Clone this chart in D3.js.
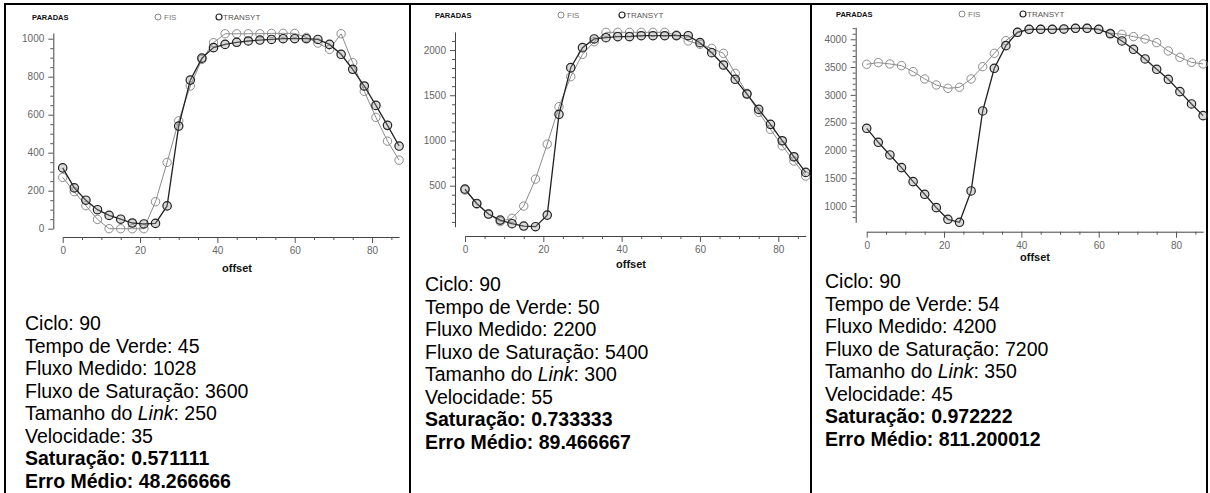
<!DOCTYPE html>
<html>
<head>
<meta charset="utf-8">
<script src="https://cdn.jsdelivr.net/npm/d3@7"></script>
<style>
  html, body { margin: 0; padding: 0; background: #fff; }
  svg { display: block; }
  text { font-family: Arial, "Liberation Sans", sans-serif; }
</style>
</head>
<body>
<svg id="chart" width="1210" height="493"></svg>
<script>
// Offsets (s) evaluated for each link
const offsets = [0,3,6,9,12,15,18,21,24,27,30,33,36,39,42,45,48,51,54,57,60,63,66,69,72,75,78,81,84,87];

// Paradas (stops) per offset — link 1
const fis1 = [270,195,121,49,0,0,0,0,142,349,568,751,891,979,1026,1026,1026,1026,1028,1028,1028,1007,977,944,1026,874,723,586,461,361];
const transyt1 = [320,215,150,100,70,50,30,25,28,120,540,782,898,953,970,981,988,993,996,1000,1000,1000,996,970,918,839,751,649,544,435];

// link 2
const fis2 = [452,297,187,103,140,275,573,960,1373,1705,1952,2092,2195,2195,2195,2195,2195,2195,2166,2100,2063,2018,1963,1742,1521,1311,1123,942,773,607];
const transyt2 = [463,304,187,120,80,54,47,175,1289,1805,2026,2122,2136,2147,2147,2158,2158,2158,2158,2158,2081,1970,1834,1676,1513,1344,1178,997,820,647];

// link 3
const fis3 = [3550,3580,3556,3526,3418,3286,3178,3118,3136,3286,3508,3748,3976,4126,4180,4180,4180,4180,4198,4198,4180,4110,4090,4048,4006,3940,3790,3676,3586,3556];
const transyt3 = [2398,2146,1918,1690,1438,1210,970,760,706,1270,2710,3478,3886,4126,4180,4180,4180,4186,4198,4198,4180,4100,3970,3820,3646,3460,3280,3058,2836,2626];

// Axis ticks
const xTicks = [0,20,40,60,80];
const xMinorTicks = [5,10,15,25,30,35,45,50,55,65,70,75,85];
const yTicks1 = [0,200,400,600,800,1000];
const yTicks2 = [500,1000,1500,2000];
const yTicks3 = [1000,1500,2000,2500,3000,3500,4000];

// Link parameters shown under each chart
const info1 = ["Ciclo: 90","Tempo de Verde: 45","Fluxo Medido: 1028","Fluxo de Saturação: 3600","Tamanho do |Link|: 250","Velocidade: 35","Saturação: 0.571111","Erro Médio: 48.266666"];
const info2 = ["Ciclo: 90","Tempo de Verde: 50","Fluxo Medido: 2200","Fluxo de Saturação: 5400","Tamanho do |Link|: 300","Velocidade: 55","Saturação: 0.733333","Erro Médio: 89.466667"];
const info3 = ["Ciclo: 90","Tempo de Verde: 54","Fluxo Medido: 4200","Fluxo de Saturação: 7200","Tamanho do |Link|: 350","Velocidade: 45","Saturação: 0.972222","Erro Médio: 811.200012"];

const svg = d3.select("#chart");

// Table grid around the three cells
const grid = svg.append("g").attr("stroke", "#000").attr("stroke-width", 2);
grid.append("line").attr("x1", 4).attr("x2", 1208).attr("y1", 4).attr("y2", 4);
[5, 410, 811, 1207].forEach(x =>
  grid.append("line").attr("x1", x).attr("x2", x).attr("y1", 3).attr("y2", 493));

const panels = [
  { fis: fis1, transyt: transyt1, yTicks: yTicks1, yMinorStep: 50, info: info1,
    x0: 62.7, x1: 399.1, yDom: [0, 1030], yRange: [228.7, 33.0],
    yAxisX: 53.3, xAxisY: 237, legendY: 17, legendX: 32, offsetX: 237, offsetY: 272,
    textX: 25, textY: 330 },
  { fis: fis2, transyt: transyt2, yTicks: yTicks2, yMinorStep: 100, info: info2,
    x0: 465, x1: 805.7, yDom: [47, 2200], yRange: [226.7, 31.9],
    yAxisX: 455, xAxisY: 236, legendY: 15, legendX: 435, offsetX: 631, offsetY: 268,
    textX: 425, textY: 291 },
  { fis: fis3, transyt: transyt3, yTicks: yTicks3, yMinorStep: 100, info: info3,
    x0: 866.7, x1: 1203.1, yDom: [706, 4216], yRange: [222.3, 27.3],
    yAxisX: 855.7, xAxisY: 231.7, legendY: 14, legendX: 836, offsetX: 1035, offsetY: 261,
    textX: 825, textY: 288 }
];

panels.forEach(p => {
  const g = svg.append("g");
  const x = d3.scaleLinear().domain([0, 87]).range([p.x0, p.x1]);
  const y = d3.scaleLinear().domain(p.yDom).range(p.yRange);

  // Header: title and legend
  const head = g.append("g").attr("transform", `translate(0,${p.legendY})`);
  head.append("text").attr("x", p.legendX).attr("y", 3)
    .attr("font-size", 7.5).attr("font-weight", "bold").attr("fill", "#111").text("PARADAS");
  head.append("circle").attr("cx", p.legendX + 126).attr("cy", 0).attr("r", 3)
    .attr("fill", "none").attr("stroke", "#888").attr("stroke-width", 1);
  head.append("text").attr("x", p.legendX + 132).attr("y", 3)
    .attr("font-size", 8).attr("fill", "#777").text("FIS");
  head.append("circle").attr("cx", p.legendX + 187).attr("cy", 0).attr("r", 3)
    .attr("fill", "none").attr("stroke", "#222").attr("stroke-width", 1.2);
  head.append("text").attr("x", p.legendX + 191).attr("y", 3)
    .attr("font-size", 8).attr("fill", "#555").text("TRANSYT");

  // Y axis: labelled major ticks plus unlabelled minor ticks
  const yMinor = d3.range(Math.ceil(p.yDom[0] / p.yMinorStep) * p.yMinorStep, p.yDom[1], p.yMinorStep)
    .filter(v => !p.yTicks.includes(v));
  g.append("g").attr("transform", `translate(${p.yAxisX},0)`)
    .call(d3.axisLeft(y).tickValues(p.yTicks).tickSize(5).tickSizeOuter(0).tickPadding(4)
      .tickFormat(d3.format("d")));
  g.append("g").attr("transform", `translate(${p.yAxisX},0)`)
    .call(d3.axisLeft(y).tickValues(yMinor).tickSize(3).tickSizeOuter(0).tickFormat(""))
    .select(".domain").remove();

  // X axis
  g.append("g").attr("transform", `translate(0,${p.xAxisY})`)
    .call(d3.axisBottom(x).tickValues(xTicks).tickSize(6).tickSizeOuter(0).tickPadding(4)
      .tickFormat(d3.format("d")));
  g.append("g").attr("transform", `translate(0,${p.xAxisY})`)
    .call(d3.axisBottom(x).tickValues(xMinorTicks).tickSize(3).tickSizeOuter(0).tickFormat(""))
    .select(".domain").remove();

  g.selectAll(".domain").attr("stroke", "#444");
  g.selectAll(".tick line").attr("stroke", "#555");
  g.selectAll(".tick text").attr("fill", "#666").attr("font-size", 10)
    .attr("font-family", "Arial, 'Liberation Sans', sans-serif");

  g.append("text").attr("x", p.offsetX).attr("y", p.offsetY).attr("text-anchor", "middle")
    .attr("font-size", 11).attr("font-weight", "bold").attr("fill", "#111").text("offset");

  const line = d3.line().x((d, i) => x(offsets[i])).y(d => y(d));

  // FIS series (light)
  g.append("path").datum(p.fis).attr("d", line)
    .attr("fill", "none").attr("stroke", "#8c8c8c").attr("stroke-width", 1);
  g.append("g").selectAll("circle").data(p.fis).join("circle")
    .attr("cx", (d, i) => x(offsets[i])).attr("cy", d => y(d)).attr("r", 4.2)
    .attr("fill", "none").attr("stroke", "#8c8c8c").attr("stroke-width", 1);

  // TRANSYT series (dark)
  g.append("path").datum(p.transyt).attr("d", line)
    .attr("fill", "none").attr("stroke", "#222").attr("stroke-width", 1.3);
  g.append("g").selectAll("circle").data(p.transyt).join("circle")
    .attr("cx", (d, i) => x(offsets[i])).attr("cy", d => y(d)).attr("r", 4.2)
    .attr("fill", "#999").attr("fill-opacity", 0.35).attr("stroke", "#222").attr("stroke-width", 1.2);

  // Parameter block: six plain lines, then the two results in bold
  const lineH = 22.5;
  p.info.forEach((s, i) => {
    const t = g.append("text").attr("x", p.textX).attr("y", p.textY + i * lineH)
      .attr("font-size", 19.5).attr("fill", "#000")
      .attr("font-weight", i >= 6 ? "bold" : "normal");
    s.split("|").forEach((part, k) => {
      t.append("tspan").attr("font-style", k === 1 ? "italic" : "normal").text(part);
    });
  });
});
</script>
</body>
</html>
